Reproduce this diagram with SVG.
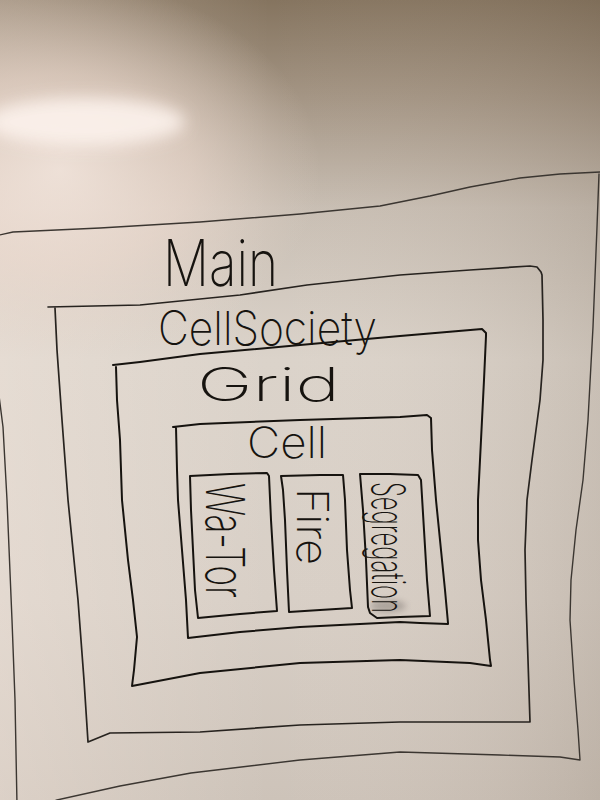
<svg xmlns="http://www.w3.org/2000/svg" width="600" height="800" viewBox="0 0 600 800">
  <defs>
    <linearGradient id="boardV" x1="0" y1="0" x2="0" y2="1">
      <stop offset="0" stop-color="#85745f"/>
      <stop offset="0.12" stop-color="#a39483"/>
      <stop offset="0.26" stop-color="#c8beb3"/>
      <stop offset="0.45" stop-color="#dbd3ca"/>
      <stop offset="0.75" stop-color="#d8cfc6"/>
      <stop offset="1" stop-color="#cdc3b9"/>
    </linearGradient>
    <linearGradient id="boardH" x1="0" y1="0" x2="1" y2="0">
      <stop offset="0" stop-color="#fff1e8" stop-opacity="0.3"/>
      <stop offset="0.45" stop-color="#fff1e8" stop-opacity="0"/>
      <stop offset="1" stop-color="#5a4835" stop-opacity="0.14"/>
    </linearGradient>
    <radialGradient id="glow" cx="0.5" cy="0.5" r="0.5">
      <stop offset="0" stop-color="#f9ebe3" stop-opacity="1"/>
      <stop offset="0.5" stop-color="#f0ddd2" stop-opacity="0.75"/>
      <stop offset="1" stop-color="#eadacf" stop-opacity="0"/>
    </radialGradient>
    <filter id="soft" x="-30%" y="-50%" width="160%" height="200%">
      <feGaussianBlur stdDeviation="8"/>
    </filter>
    <filter id="smear" x="-50%" y="-50%" width="200%" height="200%">
      <feGaussianBlur stdDeviation="3"/>
    </filter>
    <style>
      .ink { fill: none; stroke: #16130f; stroke-width: 2; stroke-linejoin: round; stroke-linecap: round; }
      .faint { stroke: #3b3631; stroke-width: 1.4; }
      .mid { stroke: #27231f; stroke-width: 1.7; }
      .hand { font-family: Inter, Roboto, "Open Sans", "Liberation Sans", sans-serif; font-weight: 200; fill: #16130f; }
    </style>
  </defs>

  <!-- whiteboard surface with lamp glare on the left -->
  <rect width="600" height="800" fill="url(#boardV)"/>
  <rect width="600" height="800" fill="url(#boardH)"/>
  <ellipse cx="60" cy="170" rx="260" ry="190" fill="url(#glow)" opacity="0.75"/>
  <ellipse cx="85" cy="122" rx="100" ry="24" fill="#fcf2ec" opacity="0.9" filter="url(#soft)"/>

  <!-- Main -->
  <g id="main">
    <polyline class="ink faint" points="-5,236 13,232 100,228 200,222 300,214 380,206 430,196 470,187 520,178 560,174 600,172"/>
    <polyline class="ink faint" points="599,174 598,200 597,227 593,327 588,420 583,480 576,530 571,580 570,620 574,680 578,730 580,760 560,757 500,755 400,752 300,760 191,773 120,786 57,800 40,806"/>
    <polyline class="ink faint" points="-3,380 3,427 7,500 12,620 15,700 17,805"/>
    <text class="hand" x="163" y="286" font-size="64" textLength="115" lengthAdjust="spacingAndGlyphs">Main</text>
  </g>

  <!-- CellSociety -->
  <g id="cellsociety">
    <polyline class="ink mid" points="48,307 140,305 240,295 307,285 400,275 470,270 530,266 537,267 541,272 542,275 543,320 543,360 540,400 532,460 527,500 525,550 526,600 528,660 530,722 480,722 400,722 300,725 200,732 110,733 88,742 84,680 78,600 68,500 62,420 57,350 55,308"/>
    <text class="hand" x="158" y="345" font-size="47" textLength="219" lengthAdjust="spacingAndGlyphs">CellSociety</text>
  </g>

  <!-- Grid -->
  <g id="grid">
    <polyline class="ink" points="113,365 140,362 200,354 300,345 400,336 482,329 486,333 486,336 484,380 482,420 480,460 478,500 478,540 481,580 486,620 490,660 491,666 470,663 400,660 300,663 200,673 132,686 134,670 137,637 133,600 128,560 122,500 120,440 117,400 116,367"/>
    <text class="hand" x="197" y="401" font-size="46" textLength="143" lengthAdjust="spacingAndGlyphs">Grid</text>
  </g>

  <!-- Cell -->
  <g id="cell">
    <polyline class="ink" points="173,427 200,424 300,420 400,417 427,415 431,418 432,450 436,500 441,550 445,590 448,623 448,624 420,623 400,622 300,627 240,632 188,638 186,600 182,550 178,500 177,470 176,427"/>
    <text class="hand" x="247" y="458" font-size="43" textLength="80" lengthAdjust="spacingAndGlyphs">Cell</text>
  </g>

  <!-- Wa-Tor -->
  <g id="wator">
    <polyline class="ink" points="190,476 230,474 267,473 269,476 271,520 274,570 277,611 240,614 198,618 195,590 193,550 191,510 190,476"/>
    <text class="hand" transform="translate(206,483) rotate(90)" x="0" y="0" font-size="54" textLength="115" lengthAdjust="spacingAndGlyphs">Wa-Tor</text>
  </g>

  <!-- Fire -->
  <g id="fire">
    <polyline class="ink" points="281,476 320,475 343,475 345,500 347,550 350,590 352,608 320,610 289,612 287,570 285,520 283,490 281,476"/>
    <text class="hand" transform="translate(297,488) rotate(90)" x="0" y="0" font-size="44" textLength="77" lengthAdjust="spacingAndGlyphs">Fire</text>
  </g>

  <!-- Segregation -->
  <g id="segregation">
    <ellipse cx="388" cy="606" rx="18" ry="6" fill="#77706a" opacity="0.45" filter="url(#smear)"/>
    <polyline class="ink" points="360,474 390,474 418,475 421,480 424,530 427,580 430,616 400,617 377,618 370,613 368,607 366,560 363,510 360,474"/>
    <text class="hand" transform="translate(372,482) rotate(90)" x="0" y="0" font-size="46" textLength="131" lengthAdjust="spacingAndGlyphs">Segregation</text>
  </g>
</svg>
